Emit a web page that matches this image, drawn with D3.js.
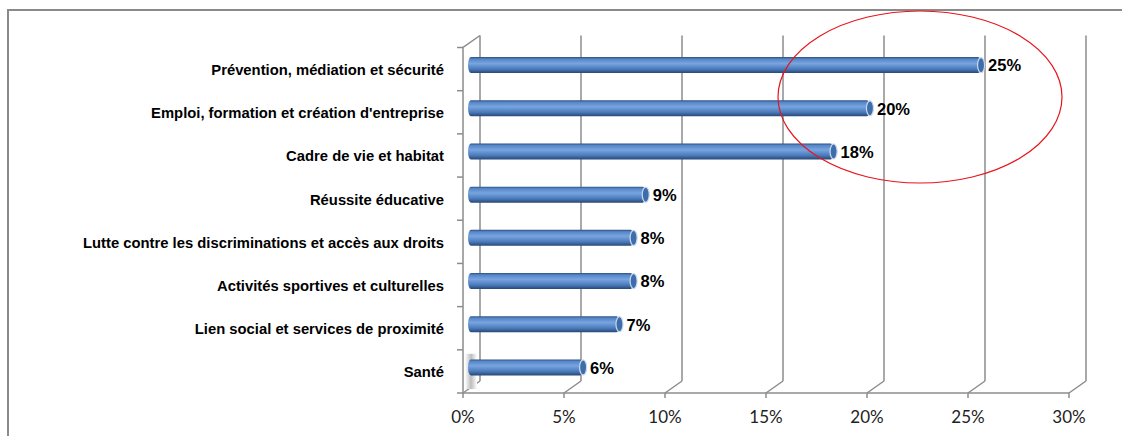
<!DOCTYPE html>
<html>
<head>
<meta charset="utf-8">
<script src="https://cdn.jsdelivr.net/npm/d3@7"></script>
<style>
  body { margin: 0; background: #fff; }
  svg { display: block; }
</style>
</head>
<body>
<svg width="1122" height="436"></svg>
<script>
var categories = [
  "Prévention, médiation et sécurité",
  "Emploi, formation et création d'entreprise",
  "Cadre de vie et habitat",
  "Réussite éducative",
  "Lutte contre les discriminations et accès aux droits",
  "Activités sportives et culturelles",
  "Lien social et services de proximité",
  "Santé"
];
var values = [25.3, 19.8, 18.0, 8.7, 8.1, 8.1, 7.4, 5.6];
var xTicks = [0, 5, 10, 15, 20, 25, 30];

var svg = d3.select("svg");
var gridColor = "#8c8c8c";

// plot box (front plane), the back wall is shifted by depth
var plotLeft = 463, plotRight = 1069, plotTop = 47.5, plotBottom = 393;
var depth = {dx: 17, dy: -12};
var barOff = {dx: 7, dy: -4};

var x = d3.scaleLinear().domain([0, 30]).range([plotLeft, plotRight]);
var y = d3.scaleBand().domain(categories).range([plotTop, plotBottom]);

// gradients
var defs = svg.append("defs");
var grad = defs.append("linearGradient").attr("id", "barGrad")
    .attr("x1", 0).attr("y1", 0).attr("x2", 0).attr("y2", 1);
[["0%", "#2c4f80"], ["12%", "#5686c8"], ["40%", "#78a5e0"], ["75%", "#4b7aba"], ["100%", "#264776"]]
  .forEach(function(s){ grad.append("stop").attr("offset", s[0]).attr("stop-color", s[1]); });
var shade = defs.append("linearGradient").attr("id", "shade")
    .attr("x1", 0).attr("y1", 0).attr("x2", 1).attr("y2", 0);
shade.append("stop").attr("offset", "0%").attr("stop-color", "#fff");
shade.append("stop").attr("offset", "50%").attr("stop-color", "#bdbdbd");
shade.append("stop").attr("offset", "100%").attr("stop-color", "#fff");

// outer frame
svg.append("path")
    .attr("d", "M8,436 L8,10 L1122,10")
    .attr("fill", "none").attr("stroke", "#8a8a8a").attr("stroke-width", 2);

var g = svg.append("g");

// back wall gridlines + floor diagonals
xTicks.forEach(function(t){
  var fx = x(t);
  g.append("line")
    .attr("x1", fx + depth.dx).attr("y1", plotTop + depth.dy)
    .attr("x2", fx + depth.dx).attr("y2", plotBottom + depth.dy)
    .attr("stroke", gridColor).attr("stroke-width", 1.5);
  g.append("line")
    .attr("x1", fx).attr("y1", plotBottom)
    .attr("x2", fx + depth.dx).attr("y2", plotBottom + depth.dy)
    .attr("stroke", gridColor).attr("stroke-width", 1.5);
  g.append("line")
    .attr("x1", fx).attr("y1", plotBottom)
    .attr("x2", fx).attr("y2", plotBottom + 5)
    .attr("stroke", gridColor).attr("stroke-width", 1.5);
});

// floor front edge
g.append("line")
  .attr("x1", plotLeft).attr("y1", plotBottom).attr("x2", plotRight).attr("y2", plotBottom)
  .attr("stroke", gridColor).attr("stroke-width", 1.5);

// left wall
g.append("path")
  .attr("d", "M" + plotLeft + "," + plotBottom + " L" + plotLeft + "," + plotTop +
             " L" + (plotLeft + depth.dx) + "," + (plotTop + depth.dy))
  .attr("fill", "none").attr("stroke", gridColor).attr("stroke-width", 1.5);

var bounds = categories.map(function(c){ return y(c); }).concat([plotBottom]);
bounds.forEach(function(b){
  g.append("line")
    .attr("x1", plotLeft - 6).attr("y1", b).attr("x2", plotLeft).attr("y2", b)
    .attr("stroke", gridColor).attr("stroke-width", 1.5);
});

// small shadow near the last bar
g.append("rect")
  .attr("x", plotLeft + 2).attr("y", y(categories[7]) + 4)
  .attr("width", 12).attr("height", y.bandwidth() - 8)
  .attr("fill", "url(#shade)");

// bars as cylinders
var barH = 16;
var bars = g.selectAll(".bar").data(values).enter().append("g").attr("class", "bar");
bars.each(function(v, i){
  var cy = y(categories[i]) + y.bandwidth() / 2 + barOff.dy;
  var x0 = x(0) + barOff.dx, x1 = x(v) + barOff.dx;
  var b = d3.select(this);
  b.append("rect")
    .attr("x", x0 - 2).attr("y", cy - barH / 2)
    .attr("width", x1 - x0 + 2).attr("height", barH)
    .attr("rx", 3).attr("ry", 8)
    .attr("fill", "url(#barGrad)");
  b.append("ellipse")
    .attr("cx", x1).attr("cy", cy).attr("rx", 3.5).attr("ry", barH / 2 - 0.5)
    .attr("fill", "#3e6dab").attr("stroke", "#c9d8ec").attr("stroke-width", 1.2);
  b.append("text")
    .attr("x", x1 + 7).attr("y", cy + 2)
    .attr("dominant-baseline", "middle")
    .attr("font-family", "'Liberation Sans', Arial, sans-serif")
    .attr("font-weight", "bold").attr("font-size", 16.5)
    .attr("fill", "#000")
    .text(Math.round(v) + "%");
});

// category labels
g.selectAll(".cat").data(categories).enter().append("text")
  .attr("class", "cat")
  .attr("x", 444)
  .attr("y", function(d){ return y(d) + y.bandwidth() / 2 + 2; })
  .attr("text-anchor", "end").attr("dominant-baseline", "middle")
  .attr("font-family", "'Liberation Sans', Arial, sans-serif")
  .attr("font-weight", "bold").attr("font-size", 14.8)
  .attr("fill", "#000")
  .text(function(d){ return d; });

// x axis labels
g.selectAll(".xl").data(xTicks).enter().append("text")
  .attr("class", "xl")
  .attr("x", function(d){ return x(d); })
  .attr("y", 423)
  .attr("text-anchor", "middle")
  .attr("font-family", "Lato, 'Liberation Sans', sans-serif")
  .attr("font-size", 17).attr("fill", "#222")
  .text(function(d){ return d + "%"; });

// red highlight ellipse
svg.append("ellipse")
  .attr("cx", 920).attr("cy", 97).attr("rx", 142).attr("ry", 86)
  .attr("fill", "none").attr("stroke", "#e8141c").attr("stroke-width", 1.2);
</script>
</body>
</html>
